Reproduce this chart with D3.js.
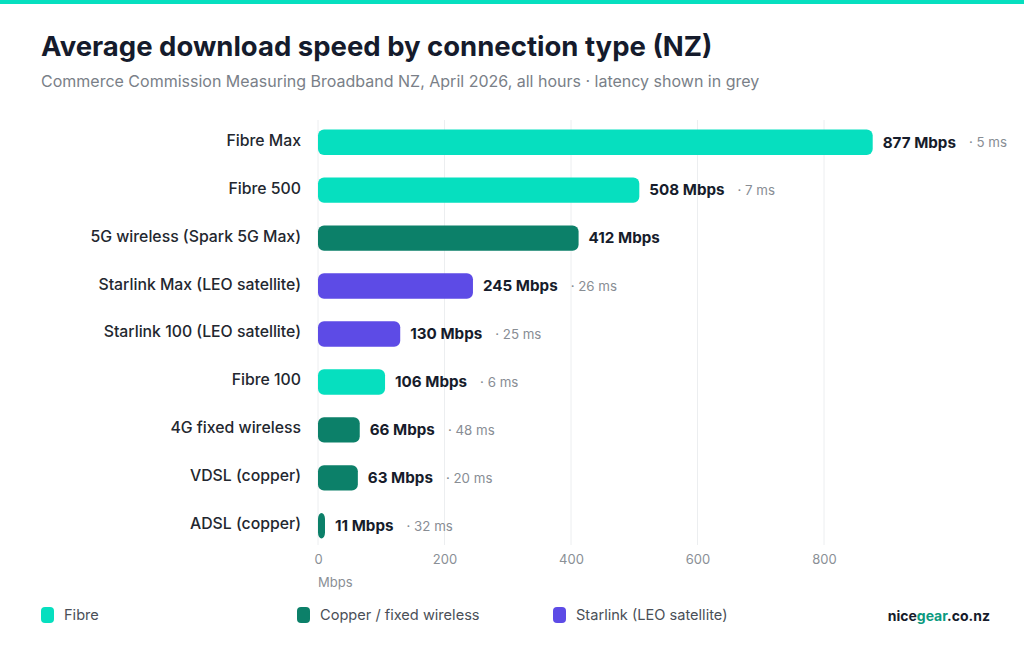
<!DOCTYPE html>
<html><head><meta charset="utf-8">
<script src="https://cdn.jsdelivr.net/npm/d3@7"></script>
<style>
body{margin:0;background:#fff;}
svg{display:block;font-family:Inter,"Open Sans",sans-serif;}
</style></head>
<body><svg id="c" width="1024" height="649"></svg>
<script>
const categories = ["Fibre Max","Fibre 500","5G wireless (Spark 5G Max)","Starlink Max (LEO satellite)","Starlink 100 (LEO satellite)","Fibre 100","4G fixed wireless","VDSL (copper)","ADSL (copper)"];
const speeds = [877,508,412,245,130,106,66,63,11];
const latency = [5,7,null,26,25,6,48,20,32];
const groups = ["Fibre","Fibre","Copper / fixed wireless","Starlink (LEO satellite)","Starlink (LEO satellite)","Fibre","Copper / fixed wireless","Copper / fixed wireless","Copper / fixed wireless"];
const legendItems = ["Fibre","Copper / fixed wireless","Starlink (LEO satellite)"];
const ticks = [0,200,400,600,800];
const colors = {"Fibre":"#06dfbf","Copper / fixed wireless":"#0c8069","Starlink (LEO satellite)":"#5d4be6"};

const svg = d3.select("#c");
svg.append("rect").attr("x",0).attr("y",0).attr("width",1024).attr("height",4).attr("fill","#06dfbf");

svg.append("text").attr("x",41).attr("y",56).attr("font-size",27.5).attr("font-weight",700)
  .attr("fill","#151b2c").text("Average download speed by connection type (NZ)");
svg.append("text").attr("x",41).attr("y",87).attr("font-size",16).attr("fill","#7a7f88")
  .text("Commerce Commission Measuring Broadband NZ, April 2026, all hours · latency shown in grey");

const x = d3.scaleLinear().domain([0,800]).range([318,824]);
const y = d3.scaleBand().domain(categories).range([118,550]).paddingInner(0.47).paddingOuter(0.24);

// grid
svg.append("g").selectAll("line").data(ticks).join("line")
  .attr("x1",d=>x(d)).attr("x2",d=>x(d)).attr("y1",120).attr("y2",545)
  .attr("stroke","#eceef0").attr("stroke-width",1);

// axis
const ax = svg.append("g").attr("transform","translate(0,545)")
  .call(d3.axisBottom(x).tickValues(ticks).tickSize(0).tickPadding(10).tickFormat(d3.format("d")));
ax.select(".domain").remove();
ax.selectAll("text").attr("font-size",13).attr("fill","#8a8f96").attr("font-family","Inter,sans-serif");
svg.append("text").attr("x",318).attr("y",587).attr("font-size",13).attr("fill","#8a8f96").text("Mbps");

// bars
const rows = svg.append("g").selectAll("g").data(categories).join("g");
rows.append("rect")
  .attr("x",x(0)).attr("y",d=>y(d)).attr("height",y.bandwidth())
  .attr("width",(d,i)=>Math.max(x(speeds[i])-x(0),7)).attr("rx",6)
  .attr("fill",(d,i)=>colors[groups[i]]);
rows.append("text").attr("x",301).attr("y",d=>y(d)+y.bandwidth()/2).attr("dy","0.22em")
  .attr("text-anchor","end").attr("font-size",15.8).attr("font-weight",500).attr("fill","#23272f").text(d=>d);
rows.append("text").attr("class","val").attr("x",(d,i)=>Math.max(x(speeds[i]),x(0)+7)+10)
  .attr("y",d=>y(d)+y.bandwidth()/2).attr("dy","0.35em")
  .attr("font-size",15.2).attr("font-weight",700).attr("fill","#161c2b").text((d,i)=>speeds[i]+" Mbps");
rows.each(function(d,i){
  if(latency[i]==null) return;
  const t = d3.select(this).select("text.val");
  const end = Math.max(x(speeds[i]),x(0)+7)+10+t.node().getComputedTextLength();
  d3.select(this).append("text").attr("x",end+13).attr("y",y(d)+y.bandwidth()/2).attr("dy","0.38em")
    .attr("font-size",13.3).attr("fill","#888d94").text("· "+latency[i]+" ms");
});

// legend
const lg = svg.append("g").selectAll("g").data(legendItems).join("g")
  .attr("transform",(d,i)=>`translate(${41+i*256},607)`);
lg.append("rect").attr("width",13).attr("height",16).attr("rx",4).attr("fill",d=>colors[d]);
lg.append("text").attr("x",23).attr("y",13).attr("font-size",14.6).attr("fill","#4a4f57").text(d=>d);

const brand = svg.append("text").attr("x",990).attr("y",621).attr("text-anchor","end")
  .attr("font-size",14).attr("font-weight",700).attr("fill","#161c2b");
brand.append("tspan").text("nice");
brand.append("tspan").attr("fill","#0c9a80").text("gear");
brand.append("tspan").text(".co.nz");
</script></body></html>
